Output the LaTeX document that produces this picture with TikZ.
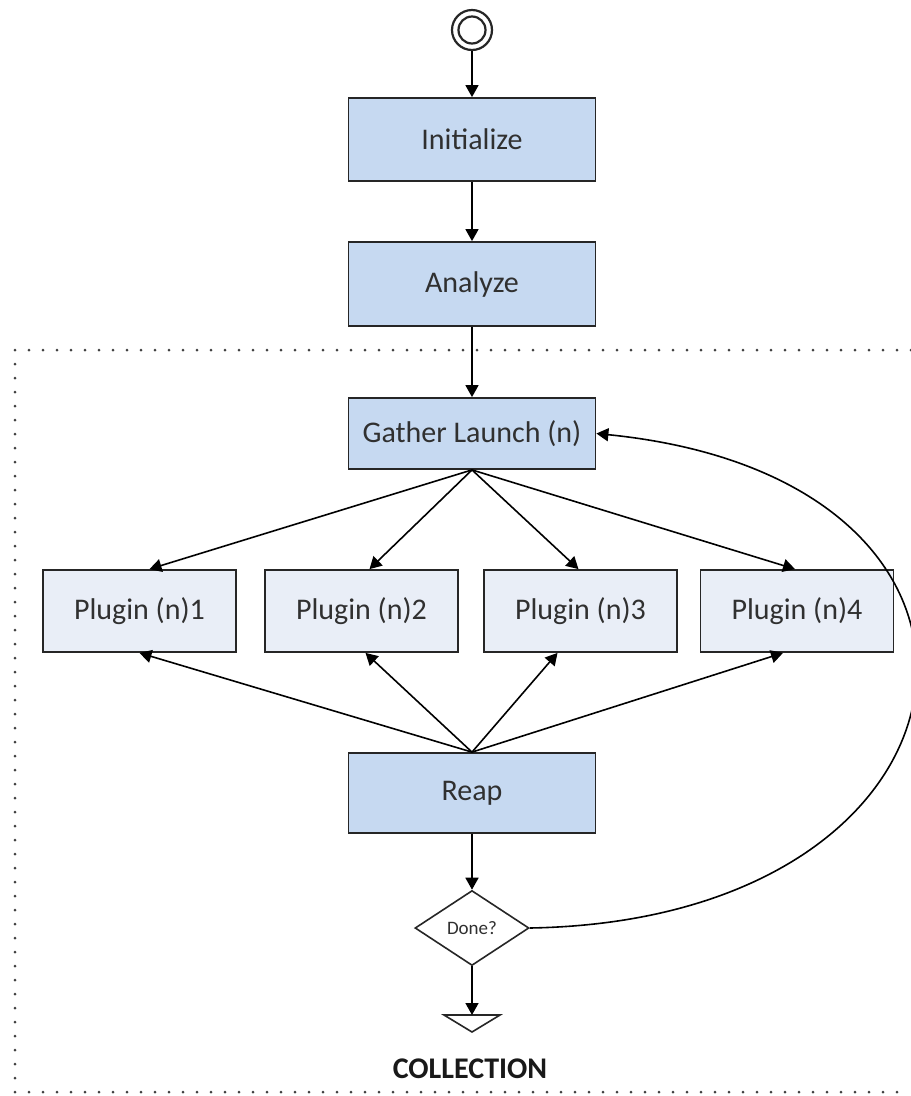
\documentclass[tikz,border=0pt]{standalone}
\usepackage{fontspec}
\setmainfont{Carlito}
\usetikzlibrary{shapes.geometric,arrows.meta,calc}
\definecolor{mainfill}{HTML}{C6D9F1}
\definecolor{plugfill}{HTML}{E9EEF7}
\definecolor{txt}{HTML}{303030}
\tikzset{
  arr/.style={line width=1.6pt,-{Triangle[length=12pt,width=13pt]}},
  mainbox/.style={draw=black!85,line width=1.8pt,fill=mainfill,minimum width=247pt,inner sep=0pt,text=txt,font=\fontsize{30}{36}\selectfont},
  plugbox/.style={draw=black!85,line width=1.8pt,fill=plugfill,minimum width=193pt,minimum height=82pt,inner sep=0pt,text=txt,font=\fontsize{30}{36}\selectfont},
  decision/.style={draw=black!85,line width=1.6pt,fill=white,shape=diamond,minimum width=114pt,minimum height=75pt,inner sep=0pt,text=txt,font=\fontsize{19}{22}\selectfont},
  dotframe/.style={line width=3pt,line cap=round,dash pattern=on 0pt off 14pt,black!75}
}
\begin{document}
\begin{tikzpicture}[x=1pt,y=-1pt]
\useasboundingbox (0,0) rectangle (911,1096);
\fill[white] (0,0) rectangle (911,1096);
% dotted frame
\draw[dotframe] (911,350) -- (15,350) -- (15,1092) -- (911,1092);
% start
\node[circle,draw=black!85,line width=2.2pt,minimum size=40pt,inner sep=0pt] (start) at (472,30) {};
\node[circle,draw=black!85,line width=2.2pt,minimum size=27pt,inner sep=0pt] (startin) at (472,30) {};
% main boxes
\node[mainbox,minimum height=83pt] (init) at (472,139.5) {Initialize};
\node[mainbox,minimum height=84pt] (analyze) at (472,284) {Analyze};
\node[mainbox,minimum height=71pt] (gather) at (472,433.5) {Gather Launch (n)};
\node[plugbox] (p1) at (139.5,611) {Plugin (n)1};
\node[plugbox] (p2) at (361.5,611) {Plugin (n)2};
\node[plugbox] (p3) at (580.5,611) {Plugin (n)3};
\node[plugbox] (p4) at (797,611) {Plugin (n)4};
\node[mainbox,minimum height=80pt] (reap) at (472,793) {Reap};
\node[decision] (done) at (472,928) {Done?};
\coordinate (end) at (472,1015);
\draw[line width=1.6pt,black!85,line join=miter] (end) -- ++(28,0) -- ++(-28,17) -- ++(-28,-17) -- cycle;
\node[font=\bfseries\fontsize{30}{36}\selectfont,text=black!90] (label) at (470,1069) {COLLECTION};
% connectors
\draw[arr] (start) -- (init);
\draw[arr] (init) -- (analyze);
\draw[arr] (analyze) -- (gather);
\draw[arr] (gather.south) -- ([xshift=10pt]p1.north);
\draw[arr] (gather.south) -- ([xshift=8pt]p2.north);
\draw[arr] (gather.south) -- ([xshift=-2pt]p3.north);
\draw[arr] (gather.south) -- ([xshift=-2pt]p4.north);
\draw[arr] (reap.north) -- ([xshift=0pt]p1.south);
\draw[arr] (reap.north) -- ([xshift=4pt]p2.south);
\draw[arr] (reap.north) -- ([xshift=-23pt]p3.south);
\draw[arr] (reap.north) -- ([xshift=-14pt]p4.south);
\draw[arr] (reap) -- (done);
\draw[arr] (done) -- (end);
\draw[arr] (done.east) .. controls (1000,920) and (1060,480) .. (gather.east);
\end{tikzpicture}
\end{document}
